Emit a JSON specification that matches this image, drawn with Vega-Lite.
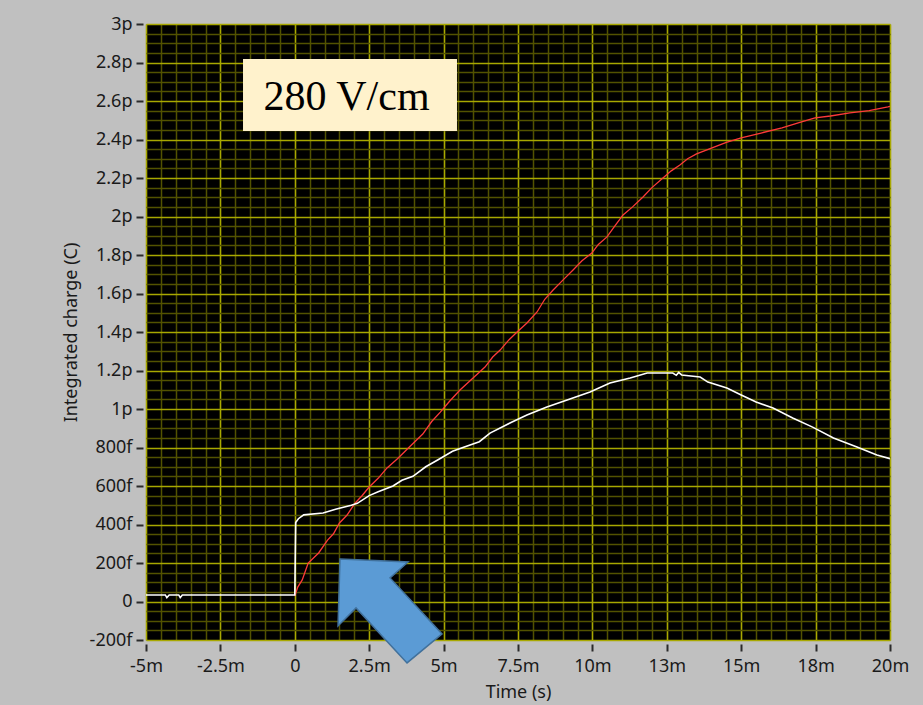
{
  "$schema": "https://vega.github.io/schema/vega-lite/v6.json",
  "width": 744,
  "height": 616,
  "autosize": "none",
  "padding": {"left": 146, "top": 24, "right": 33, "bottom": 65},
  "background": "#c0c0c0",
  "config": {
    "view": {"fill": "#000000", "stroke": "#9a9a9a", "strokeWidth": 1},
    "font": "Noto Sans"
  },
  "datasets": {
    "white": [
      {"t": -5, "q": 0.034}, {"t": -4.35, "q": 0.034}, {"t": -4.3, "q": 0.02}, {"t": -4.22, "q": 0.034},
      {"t": -3.9, "q": 0.034}, {"t": -3.85, "q": 0.02}, {"t": -3.78, "q": 0.034}, {"t": 0, "q": 0.034},
      {"t": 0.03, "q": 0.41}, {"t": 0.12, "q": 0.43}, {"t": 0.3, "q": 0.45}, {"t": 0.95, "q": 0.46},
      {"t": 1.4, "q": 0.48}, {"t": 1.9, "q": 0.5}, {"t": 2.1, "q": 0.51}, {"t": 2.5, "q": 0.55},
      {"t": 2.8, "q": 0.57}, {"t": 3.3, "q": 0.6}, {"t": 3.6, "q": 0.63}, {"t": 3.97, "q": 0.65},
      {"t": 4.4, "q": 0.7}, {"t": 4.8, "q": 0.735}, {"t": 5.3, "q": 0.78}, {"t": 5.65, "q": 0.8},
      {"t": 6.2, "q": 0.83}, {"t": 6.56, "q": 0.875}, {"t": 7.23, "q": 0.927}, {"t": 7.8, "q": 0.969},
      {"t": 8.47, "q": 1.01}, {"t": 9.15, "q": 1.047}, {"t": 9.92, "q": 1.088}, {"t": 10.59, "q": 1.135},
      {"t": 11.27, "q": 1.161}, {"t": 11.84, "q": 1.187}, {"t": 12.7, "q": 1.187}, {"t": 12.82, "q": 1.175},
      {"t": 12.9, "q": 1.19}, {"t": 13.0, "q": 1.177}, {"t": 13.62, "q": 1.166}, {"t": 13.88, "q": 1.14},
      {"t": 14.52, "q": 1.109}, {"t": 15.0, "q": 1.073}, {"t": 15.5, "q": 1.036}, {"t": 16.07, "q": 1.005},
      {"t": 16.73, "q": 0.953}, {"t": 17.4, "q": 0.906}, {"t": 18.1, "q": 0.849}, {"t": 18.89, "q": 0.803},
      {"t": 19.56, "q": 0.761}, {"t": 20, "q": 0.742}
    ],
    "red": [
      {"t": 0, "q": 0.028}, {"t": 0.1, "q": 0.075}, {"t": 0.25, "q": 0.112}, {"t": 0.45, "q": 0.2},
      {"t": 0.8, "q": 0.252}, {"t": 1.1, "q": 0.319}, {"t": 1.3, "q": 0.352}, {"t": 1.5, "q": 0.408},
      {"t": 1.75, "q": 0.448}, {"t": 2.03, "q": 0.512}, {"t": 2.25, "q": 0.548}, {"t": 2.5, "q": 0.595},
      {"t": 2.8, "q": 0.64}, {"t": 3.1, "q": 0.694}, {"t": 3.45, "q": 0.742}, {"t": 3.85, "q": 0.803},
      {"t": 4.3, "q": 0.87}, {"t": 4.6, "q": 0.935}, {"t": 4.89, "q": 0.984}, {"t": 5.2, "q": 1.04},
      {"t": 5.55, "q": 1.099}, {"t": 5.99, "q": 1.161}, {"t": 6.39, "q": 1.218}, {"t": 6.65, "q": 1.27},
      {"t": 6.9, "q": 1.306}, {"t": 7.2, "q": 1.36}, {"t": 7.47, "q": 1.4}, {"t": 7.8, "q": 1.447},
      {"t": 8.14, "q": 1.504}, {"t": 8.4, "q": 1.57}, {"t": 8.68, "q": 1.618}, {"t": 9.0, "q": 1.668},
      {"t": 9.35, "q": 1.722}, {"t": 9.65, "q": 1.77}, {"t": 9.98, "q": 1.81}, {"t": 10.2, "q": 1.855},
      {"t": 10.49, "q": 1.894}, {"t": 10.75, "q": 1.95}, {"t": 11.03, "q": 2.008}, {"t": 11.35, "q": 2.05},
      {"t": 11.7, "q": 2.101}, {"t": 12.0, "q": 2.15}, {"t": 12.37, "q": 2.2}, {"t": 12.65, "q": 2.237},
      {"t": 12.94, "q": 2.268}, {"t": 13.2, "q": 2.3}, {"t": 13.5, "q": 2.325}, {"t": 14.0, "q": 2.355},
      {"t": 14.5, "q": 2.385}, {"t": 15.0, "q": 2.408}, {"t": 15.7, "q": 2.435}, {"t": 16.37, "q": 2.46},
      {"t": 17.0, "q": 2.49}, {"t": 17.48, "q": 2.512}, {"t": 18.0, "q": 2.522}, {"t": 18.65, "q": 2.538},
      {"t": 19.3, "q": 2.55}, {"t": 19.93, "q": 2.569}, {"t": 20, "q": 2.572}
    ],
    "box": [{"t": -1.74, "t2": 5.45, "q": 2.818, "q2": 2.444}],
    "label": [{"t": 1.74, "q": 2.553, "text": "280 V/cm"}],
    "arrow": [{"t": 3.2, "q": -0.049}]
  },
  "encoding": {
    "x": {
      "field": "t", "type": "quantitative",
      "scale": {"domain": [-5, 20], "nice": false, "zero": false},
      "axis": {
        "title": "Time (s)",
        "values": [-5,-4.5,-4,-3.5,-3,-2.5,-2,-1.5,-1,-0.5,0,0.5,1,1.5,2,2.5,3,3.5,4,4.5,5,5.5,6,6.5,7,7.5,8,8.5,9,9.5,10,10.5,11,11.5,12,12.5,13,13.5,14,14.5,15,15.5,16,16.5,17,17.5,18,18.5,19,19.5,20],
        "labelExpr": "abs(datum.value/2.5 - round(datum.value/2.5)) < 0.01 ? (abs(datum.value) < 0.001 ? '0' : (datum.value < 0 ? '-' : '') + format(abs(datum.value), '.2~r') + 'm') : ''",
        "labelOverlap": false,
        "labelFlush": false,
        "offset": 4,
        "domain": false,
        "tickSize": 7,
        "tickWidth": 2,
        "tickColor": {"condition": {"test": "abs(datum.value/2.5 - round(datum.value/2.5)) < 0.01", "value": "#2a2a2a"}, "value": "transparent"},
        "gridColor": {"condition": {"test": "abs(datum.value/2.5 - round(datum.value/2.5)) < 0.01", "value": "#a8a800"}, "value": "#525200"},
        "gridWidth": {"condition": {"test": "abs(datum.value/2.5 - round(datum.value/2.5)) < 0.01", "value": 1.6}, "value": 1.5},
        "gridOpacity": 1,
        "labelFontSize": 18,
        "labelColor": "#1a1a1a",
        "labelPadding": 6,
        "titleFontSize": 18,
        "titleFontWeight": "normal",
        "titleColor": "#1a1a1a",
        "titlePadding": 8
      }
    },
    "y": {
      "field": "q", "type": "quantitative",
      "scale": {"domain": [-0.2, 3], "nice": false, "zero": false},
      "axis": {
        "title": "Integrated charge (C)",
        "values": [-0.2,-0.15,-0.1,-0.05,0,0.05,0.1,0.15,0.2,0.25,0.3,0.35,0.4,0.45,0.5,0.55,0.6,0.65,0.7,0.75,0.8,0.85,0.9,0.95,1,1.05,1.1,1.15,1.2,1.25,1.3,1.35,1.4,1.45,1.5,1.55,1.6,1.65,1.7,1.75,1.8,1.85,1.9,1.95,2,2.05,2.1,2.15,2.2,2.25,2.3,2.35,2.4,2.45,2.5,2.55,2.6,2.65,2.7,2.75,2.8,2.85,2.9,2.95,3],
        "labelExpr": "abs(datum.value*5 - round(datum.value*5)) < 0.01 ? (abs(datum.value) < 0.001 ? '0' : (abs(datum.value) < 0.999 ? (datum.value < 0 ? '-' : '') + format(abs(datum.value)*1000, '.0f') + 'f' : format(datum.value, '.2~r') + 'p')) : ''",
        "labelOverlap": false,
        "labelFlush": false,
        "offset": 3,
        "domain": false,
        "tickSize": 7,
        "tickWidth": 2,
        "tickColor": {"condition": {"test": "abs(datum.value*5 - round(datum.value*5)) < 0.01", "value": "#2a2a2a"}, "value": "transparent"},
        "gridColor": {"condition": {"test": "abs(datum.value*5 - round(datum.value*5)) < 0.01", "value": "#a8a800"}, "value": "#525200"},
        "gridWidth": {"condition": {"test": "abs(datum.value*5 - round(datum.value*5)) < 0.01", "value": 1.6}, "value": 1.5},
        "gridOpacity": 1,
        "labelFontSize": 18,
        "labelColor": "#1a1a1a",
        "labelPadding": 4,
        "titleFontSize": 18,
        "titleFontWeight": "normal",
        "titleColor": "#1a1a1a",
        "titlePadding": 9
      }
    }
  },
  "layer": [
    {
      "data": {"name": "red"},
      "mark": {"type": "line", "color": "#ff3a3a", "strokeWidth": 1.3, "clip": true}
    },
    {
      "data": {"name": "white"},
      "mark": {"type": "line", "color": "#ffffff", "strokeWidth": 1.6, "clip": true}
    },
    {
      "data": {"name": "box"},
      "mark": {"type": "rect", "fill": "#fff2cc"},
      "encoding": {"x2": {"field": "t2"}, "y2": {"field": "q2"}}
    },
    {
      "data": {"name": "label"},
      "mark": {"type": "text", "font": "Liberation Serif", "fontSize": 42, "color": "#000000", "align": "center", "baseline": "alphabetic"},
      "encoding": {"text": {"field": "text"}}
    },
    {
      "data": {"name": "arrow"},
      "mark": {
        "type": "point", "filled": true, "size": 10816,
        "shape": "M -0.962 -1 L 0.346 -0.942 L 0 -0.635 L 1 0.442 L 0.327 1 L -0.654 -0.058 L -1 0.288 Z",
        "fill": "#5b9bd5", "stroke": "#41719c", "strokeWidth": 1.5, "opacity": 1, "fillOpacity": 1
      }
    }
  ]
}
